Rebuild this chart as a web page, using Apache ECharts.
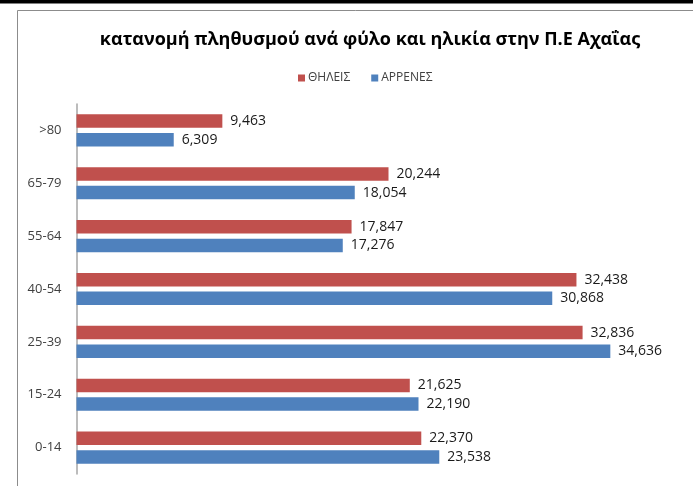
<!DOCTYPE html>
<html>
<head>
<meta charset="utf-8">
<script src="https://cdn.jsdelivr.net/npm/echarts@6/dist/echarts.min.js"></script>
<style>html,body{margin:0;padding:0;background:#fff;}#c{width:693px;height:486px;}</style>
</head>
<body>
<div id="c"></div>
<script>
const categories = ['0-14', '15-24', '25-39', '40-54', '55-64', '65-79', '>80'];
const femaleValues = [22370, 21625, 32836, 32438, 17847, 20244, 9463];
const maleValues = [23538, 22190, 34636, 30868, 17276, 18054, 6309];
const seriesNames = ['ΘΗΛΕΙΣ', 'ΑΡΡΕΝΕΣ'];
const titleText = 'κατανομή πληθυσμού ανά φύλο και ηλικία στην Π.Ε Αχαΐας';

const chart = echarts.init(document.getElementById('c'), null, {renderer: 'canvas'});
const fmt = p => Number(p.value).toLocaleString('en-US');
const font = '"Open Sans", "Noto Sans", sans-serif';
chart.setOption({
  animation: false,
  backgroundColor: '#ffffff',
  graphic: [
    {type: 'rect', shape: {x: 0, y: 0, width: 693, height: 3.5}, style: {fill: '#000'}, z: 100},
    {type: 'rect', shape: {x: 17.5, y: 10.5, width: 700, height: 500}, style: {fill: 'none', stroke: '#8c8c8c', lineWidth: 1}, z: 100}
  ],
  title: {
    text: titleText, left: 365, top: 26, textAlign: 'center',
    textStyle: {fontFamily: font, fontSize: 18, fontWeight: 'bold', color: '#000'}
  },
  legend: {
    data: seriesNames, top: 67, left: 293, itemWidth: 7, itemHeight: 7, itemGap: 21,
    icon: 'rect',
    textStyle: {fontFamily: font, fontSize: 12, color: '#404040', padding: [0, 0, 0, -2]}
  },
  grid: {left: 76.5, top: 104, height: 370, width: 621, containLabel: false},
  xAxis: {type: 'value', min: 0, max: 40000, show: false},
  yAxis: {
    type: 'category', data: categories,
    axisLine: {show: true, lineStyle: {color: '#a6a6a6', width: 1.5}},
    axisTick: {show: false},
    axisLabel: {fontFamily: font, fontSize: 13, color: '#404040', margin: 15}
  },
  series: [
    {name: seriesNames[0], type: 'bar', data: femaleValues, barWidth: 13.5, barGap: '38%',
     itemStyle: {color: '#c0504d'},
     label: {show: true, position: 'right', distance: 8, formatter: fmt, fontFamily: font, fontSize: 14, color: '#1a1a1a'}},
    {name: seriesNames[1], type: 'bar', data: maleValues, barWidth: 13.5, barGap: '38%',
     itemStyle: {color: '#4f81bd'},
     label: {show: true, position: 'right', distance: 8, formatter: fmt, fontFamily: font, fontSize: 14, color: '#1a1a1a'}}
  ]
});
</script>
</body>
</html>
